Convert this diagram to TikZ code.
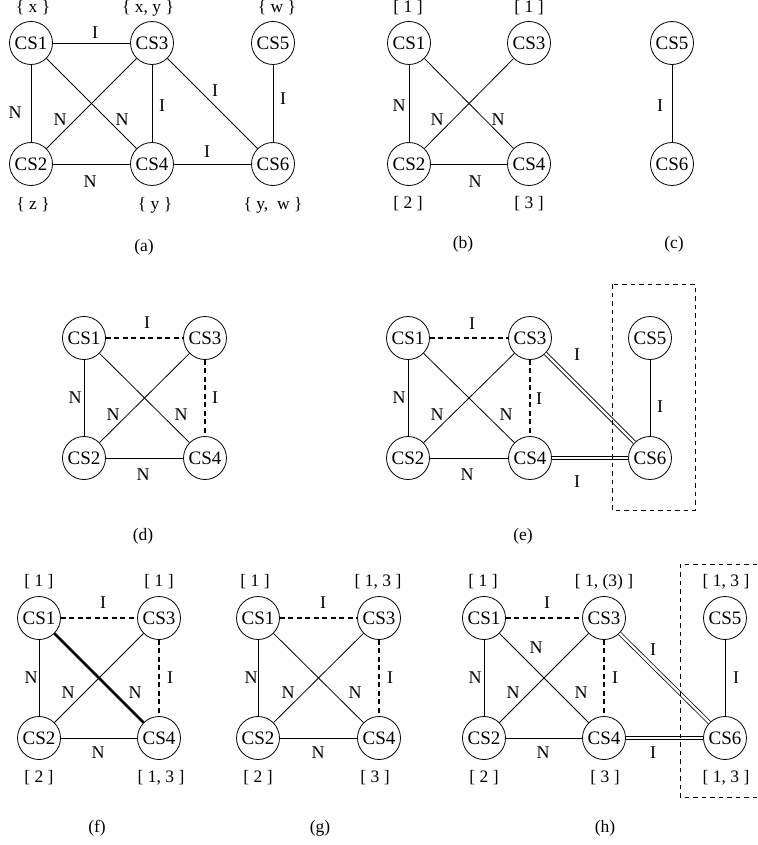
\documentclass[tikz,border=0pt]{standalone}
\usepackage{fontspec}
\setmainfont{Liberation Serif}
\tikzset{
  cs/.style={circle,draw,line width=0.8pt,minimum size=43pt,inner sep=0pt,font=\fontsize{19}{22}\selectfont},
  lbl/.style={inner sep=0pt,font=\fontsize{17.5}{20}\selectfont},
  elbl/.style={inner sep=0pt,font=\fontsize{18}{20}\selectfont},
  thin edge/.style={line width=0.8pt},
  dash edge/.style={line width=2.5pt,dash pattern=on 5pt off 3.5pt},
  bold edge/.style={line width=2.6pt},
  dbl edge/.style={double,double distance=2.4pt,line width=0.75pt},
  boxline/.style={line width=0.75pt,dash pattern=on 4.5pt off 4pt}
}
\begin{document}
\begin{tikzpicture}[x=1pt,y=-1pt]
\useasboundingbox (0,0) rectangle (757,845);
% ---------------- (a)
\node[cs] (a1) at (31,43) {CS1};
\node[cs] (a3) at (152,43) {CS3};
\node[cs] (a5) at (273,43) {CS5};
\node[cs] (a2) at (31,164) {CS2};
\node[cs] (a4) at (152,164) {CS4};
\node[cs] (a6) at (273,164) {CS6};
\draw[thin edge] (a1) -- (a3);
\draw[thin edge] (a1) -- (a2);
\draw[thin edge] (a1) -- (a4);
\draw[thin edge] (a3) -- (a2);
\draw[thin edge] (a3) -- (a4);
\draw[thin edge] (a3) -- (a6);
\draw[thin edge] (a5) -- (a6);
\draw[thin edge] (a2) -- (a4);
\draw[thin edge] (a4) -- (a6);
\node[lbl] (at1) at (33,8) {\{ x \}};
\node[lbl] (at3) at (148,8) {\{ x, y \}};
\node[lbl] (at5) at (277,8) {\{ w \}};
\node[lbl] (ab2) at (33,205) {\{ z \}};
\node[lbl] (ab4) at (155,205) {\{ y \}};
\node[lbl] (ab6) at (273,205) {\{ y,\ \ w \}};
\node[elbl] (al1) at (95,33) {I};
\node[elbl] (al2) at (15,113) {N};
\node[elbl] (al3) at (60,120) {N};
\node[elbl] (al4) at (122,120) {N};
\node[elbl] (al5) at (162,106) {I};
\node[elbl] (al6) at (215,91) {I};
\node[elbl] (al7) at (283,99) {I};
\node[elbl] (al8) at (207,152) {I};
\node[elbl] (al9) at (90,182) {N};
\node[lbl] (capa) at (144,247) {(a)};
% ---------------- (b)
\node[cs] (b1) at (409,43) {CS1};
\node[cs] (b3) at (529,43) {CS3};
\node[cs] (b2) at (409,164) {CS2};
\node[cs] (b4) at (529,164) {CS4};
\draw[thin edge] (b1) -- (b2);
\draw[thin edge] (b1) -- (b4);
\draw[thin edge] (b3) -- (b2);
\draw[thin edge] (b2) -- (b4);
\node[lbl] (bt1) at (408,8) {[ 1 ]};
\node[lbl] (bt3) at (529,8) {[ 1 ]};
\node[lbl] (bb2) at (408,204) {[ 2 ]};
\node[lbl] (bb4) at (529,204) {[ 3 ]};
\node[elbl] (bl1) at (399,106) {N};
\node[elbl] (bl2) at (437,120) {N};
\node[elbl] (bl3) at (498,120) {N};
\node[elbl] (bl4) at (475,182) {N};
\node[lbl] (capb) at (463,244) {(b)};
% ---------------- (c)
\node[cs] (c5) at (672,43) {CS5};
\node[cs] (c6) at (672,164) {CS6};
\draw[thin edge] (c5) -- (c6);
\node[elbl] (cl1) at (660,106) {I};
\node[lbl] (capc) at (674,244) {(c)};
% ---------------- (d)
\node[cs] (d1) at (84,338) {CS1};
\node[cs] (d3) at (205,338) {CS3};
\node[cs] (d2) at (84,458) {CS2};
\node[cs] (d4) at (205,458) {CS4};
\draw[dash edge] (d1) -- (d3);
\draw[thin edge] (d1) -- (d2);
\draw[thin edge] (d1) -- (d4);
\draw[thin edge] (d3) -- (d2);
\draw[dash edge] (d3) -- (d4);
\draw[thin edge] (d2) -- (d4);
\node[elbl] (dl1) at (147,323) {I};
\node[elbl] (dl2) at (75,398) {N};
\node[elbl] (dl3) at (113,415) {N};
\node[elbl] (dl4) at (181,415) {N};
\node[elbl] (dl5) at (215,398) {I};
\node[elbl] (dl6) at (143,475) {N};
\node[lbl] (capd) at (143,536) {(d)};
% ---------------- (e)
\node[cs] (e1) at (408,338) {CS1};
\node[cs] (e3) at (530,338) {CS3};
\node[cs] (e5) at (650,338) {CS5};
\node[cs] (e2) at (408,458) {CS2};
\node[cs] (e4) at (530,458) {CS4};
\node[cs] (e6) at (650,458) {CS6};
\draw[dash edge] (e1) -- (e3);
\draw[thin edge] (e1) -- (e2);
\draw[thin edge] (e1) -- (e4);
\draw[thin edge] (e3) -- (e2);
\draw[dash edge] (e3) -- (e4);
\draw[thin edge] (e2) -- (e4);
\draw[dbl edge] (e3) -- (e6);
\draw[dbl edge] (e4) -- (e6);
\draw[thin edge] (e5) -- (e6);
\draw[boxline] (612,284) rectangle (695,510);
\node[elbl] (el1) at (472,324) {I};
\node[elbl] (el2) at (399,398) {N};
\node[elbl] (el3) at (437,415) {N};
\node[elbl] (el4) at (506,415) {N};
\node[elbl] (el5) at (539,399) {I};
\node[elbl] (el6) at (577,355) {I};
\node[elbl] (el7) at (660,407) {I};
\node[elbl] (el8) at (467,475) {N};
\node[elbl] (el9) at (577,482) {I};
\node[lbl] (cape) at (523,536) {(e)};
% ---------------- (f)
\node[cs] (f1) at (39,618) {CS1};
\node[cs] (f3) at (159,618) {CS3};
\node[cs] (f2) at (39,738) {CS2};
\node[cs] (f4) at (159,738) {CS4};
\draw[dash edge] (f1) -- (f3);
\draw[thin edge] (f1) -- (f2);
\draw[bold edge] (f1) -- (f4);
\draw[thin edge] (f3) -- (f2);
\draw[dash edge] (f3) -- (f4);
\draw[thin edge] (f2) -- (f4);
\node[lbl] (ft1) at (39,582) {[ 1 ]};
\node[lbl] (ft3) at (159,582) {[ 1 ]};
\node[lbl] (fb2) at (39,778) {[ 2 ]};
\node[lbl] (fb4) at (161,778) {[ 1, 3 ]};
\node[elbl] (fl1) at (103,603) {I};
\node[elbl] (fl2) at (31,678) {N};
\node[elbl] (fl3) at (68,693) {N};
\node[elbl] (fl4) at (135,693) {N};
\node[elbl] (fl5) at (170,678) {I};
\node[elbl] (fl6) at (98,753) {N};
\node[lbl] (capf) at (97,828) {(f)};
% ---------------- (g)
\node[cs] (g1) at (258,618) {CS1};
\node[cs] (g3) at (379,618) {CS3};
\node[cs] (g2) at (258,738) {CS2};
\node[cs] (g4) at (379,738) {CS4};
\draw[dash edge] (g1) -- (g3);
\draw[thin edge] (g1) -- (g2);
\draw[thin edge] (g1) -- (g4);
\draw[thin edge] (g3) -- (g2);
\draw[dash edge] (g3) -- (g4);
\draw[thin edge] (g2) -- (g4);
\node[lbl] (gt1) at (255,582) {[ 1 ]};
\node[lbl] (gt3) at (378,582) {[ 1, 3 ]};
\node[lbl] (gb2) at (258,778) {[ 2 ]};
\node[lbl] (gb4) at (375,778) {[ 3 ]};
\node[elbl] (gl1) at (323,603) {I};
\node[elbl] (gl2) at (251,678) {N};
\node[elbl] (gl3) at (288,693) {N};
\node[elbl] (gl4) at (355,693) {N};
\node[elbl] (gl5) at (390,678) {I};
\node[elbl] (gl6) at (318,753) {N};
\node[lbl] (capg) at (320,828) {(g)};
% ---------------- (h)
\node[cs] (h1) at (484,618) {CS1};
\node[cs] (h3) at (604,618) {CS3};
\node[cs] (h5) at (725,618) {CS5};
\node[cs] (h2) at (484,738) {CS2};
\node[cs] (h4) at (604,738) {CS4};
\node[cs] (h6) at (725,738) {CS6};
\draw[dash edge] (h1) -- (h3);
\draw[thin edge] (h1) -- (h2);
\draw[thin edge] (h1) -- (h4);
\draw[thin edge] (h3) -- (h2);
\draw[dash edge] (h3) -- (h4);
\draw[thin edge] (h2) -- (h4);
\draw[dbl edge] (h3) -- (h6);
\draw[dbl edge] (h4) -- (h6);
\draw[thin edge] (h5) -- (h6);
\coordinate (hbx1) at (757,564);
\coordinate (hbx2) at (680,564);
\coordinate (hbx3) at (680,797);
\coordinate (hbx4) at (757,797);
\draw[boxline] (hbx1) -- (hbx2) -- (hbx3) -- (hbx4);
\node[lbl] (ht1) at (483,582) {[ 1 ]};
\node[lbl] (ht3) at (604,582) {[ 1, (3) ]};
\node[lbl] (ht5) at (726,582) {[ 1, 3 ]};
\node[lbl] (hb2) at (484,778) {[ 2 ]};
\node[lbl] (hb4) at (605,778) {[ 3 ]};
\node[lbl] (hb6) at (726,778) {[ 1, 3 ]};
\node[elbl] (hl1) at (547,603) {I};
\node[elbl] (hl2) at (536,648) {N};
\node[elbl] (hl3) at (475,678) {N};
\node[elbl] (hl4) at (513,693) {N};
\node[elbl] (hl5) at (581,693) {N};
\node[elbl] (hl6) at (615,678) {I};
\node[elbl] (hl7) at (653,650) {I};
\node[elbl] (hl8) at (736,678) {I};
\node[elbl] (hl9) at (543,753) {N};
\node[elbl] (hl10) at (653,753) {I};
\node[lbl] (caph) at (605,828) {(h)};
\end{tikzpicture}
\end{document}
